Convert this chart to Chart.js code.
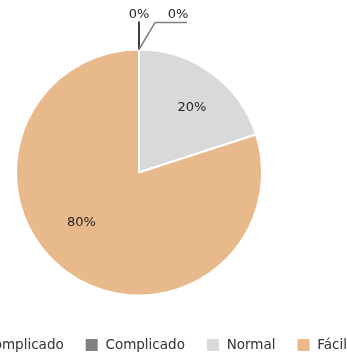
<!DOCTYPE html>
<html>
<head>
<meta charset="utf-8">
<script src="https://cdn.jsdelivr.net/npm/chart.js@4"></script>
<style>
  html, body { margin: 0; padding: 0; background: #fff; overflow: hidden; }
  #wrap { position: absolute; left: -141px; top: 0; width: 560px; height: 356px; }
</style>
</head>
<body>
<div id="wrap"><canvas id="myChart" width="560" height="356"></canvas></div>
<script>
const categories = ["Muy Complicado", "Complicado", "Normal", "Fácil"];
const values = [0, 0, 20, 80];
const colors = ["#000000", "#808080", "#d9d9d9", "#e8b98a"];

// percent labels: inside for real slices, leader lines for the empty ones
const pieLabels = {
  id: "pieLabels",
  afterDatasetsDraw(chart) {
    let ctx = chart.ctx;
    let meta = chart.getDatasetMeta(0);
    let total = values.reduce((a, b) => a + b, 0);
    ctx.save();
    ctx.font = "13px 'DejaVu Sans'";
    ctx.fillStyle = "#262626";
    ctx.textAlign = "center";
    ctx.textBaseline = "middle";
    let zeroCount = 0;
    meta.data.forEach((arc, i) => {
      let frac = values[i] / total;
      let pct = Math.round(frac * 100) + "%";
      let p = arc.getProps(["x", "y", "startAngle", "endAngle", "outerRadius"], true);
      if (values[i] === 0) {
        let sx = p.x + Math.cos(p.startAngle) * p.outerRadius;
        let sy = p.y + Math.sin(p.startAngle) * p.outerRadius;
        ctx.strokeStyle = colors[i];
        ctx.lineWidth = 1.5;
        ctx.beginPath();
        ctx.moveTo(sx, sy);
        if (zeroCount === 0) {
          ctx.lineTo(sx, sy - 28);
          ctx.stroke();
          ctx.fillText(pct, sx, sy - 35);
        } else {
          ctx.lineTo(sx + 16, sy - 27);
          ctx.lineTo(sx + 48, sy - 27);
          ctx.stroke();
          ctx.fillText(pct, sx + 39, sy - 35);
        }
        zeroCount++;
      } else {
        let span = p.endAngle - p.startAngle;
        let ang = (p.startAngle + p.endAngle) / 2 + span * 0.045;
        let r = p.outerRadius * (0.7 - 0.1 * frac);
        ctx.fillText(pct, p.x + Math.cos(ang) * r, p.y + Math.sin(ang) * r);
      }
    });
    ctx.restore();
  }
};

let ctx = document.getElementById("myChart").getContext("2d");
let chart = new Chart(ctx, {
  type: "pie",
  data: {
    labels: categories,
    datasets: [
      {
        data: values,
        backgroundColor: colors,
        borderColor: "#ffffff",
        borderWidth: 2,
        radius: 123
      }
    ]
  },
  options: {
    responsive: false,
    animation: false,
    layout: { padding: { top: 28, bottom: -6 } },
    plugins: {
      tooltip: { enabled: false },
      legend: {
        position: "bottom",
        labels: {
          boxWidth: 14,
          boxHeight: 14,
          padding: 21,
          color: "#333333",
          font: { family: "'DejaVu Sans'", size: 13.5 }
        }
      }
    }
  },
  plugins: [pieLabels]
});
</script>
</body>
</html>
